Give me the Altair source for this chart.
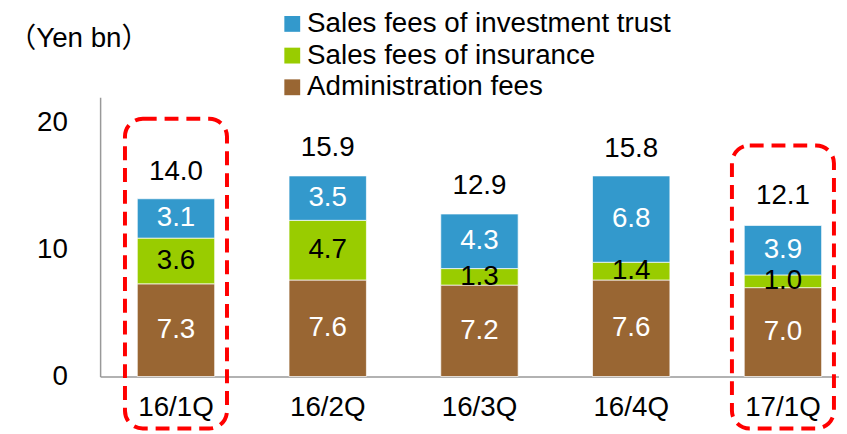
import altair as alt
import pandas as pd

quarters = ["16/1Q", "16/2Q", "16/3Q", "16/4Q", "17/1Q"]
admin = [7.3, 7.6, 7.2, 7.6, 7.0]
insurance = [3.6, 4.7, 1.3, 1.4, 1.0]
invest = [3.1, 3.5, 4.3, 6.8, 3.9]
totals = [14.0, 15.9, 12.9, 15.8, 12.1]

series = ["Sales fees of investment trust", "Sales fees of insurance", "Administration fees"]
colors = ["#3399CC", "#99CC00", "#996633"]
label_colors = {"Sales fees of investment trust": "white",
                "Sales fees of insurance": "black",
                "Administration fees": "white"}

highlight = ["16/1Q", "17/1Q"]
highlight_top = [20.3, 18.2]
highlight_bottom = [-4.1, -4.1]

FONT = "Liberation Sans, Arial, Noto Sans CJK JP"
FS = 28

rows = []
for i, q in enumerate(quarters):
    cum = 0.0
    for k, (name, vals) in enumerate([("Administration fees", admin),
                                      ("Sales fees of insurance", insurance),
                                      ("Sales fees of investment trust", invest)]):
        v = vals[i]
        rows.append({"quarter": q, "series": name, "value": v, "lo": cum,
                     "hi": cum + v, "mid": cum + v / 2, "lc": label_colors[name]})
        cum += v
df = pd.DataFrame(rows)
tot = pd.DataFrame({"quarter": quarters, "total": totals})
hl = pd.DataFrame({"quarter": highlight, "top": highlight_top, "bottom": highlight_bottom})

xenc = alt.X("quarter:N", sort=quarters,
             scale=alt.Scale(range=[0, 766], paddingInner=0.49, paddingOuter=0.245),
             axis=alt.Axis(labelAngle=0, ticks=False, tickSize=0, domainColor="#999999",
                           domainWidth=1.5, labelFontSize=FS, labelFont=FONT,
                           labelColor="black", labelPadding=17, title=None))

yscale = alt.Scale(domain=[0, 22], nice=False)

bars = alt.Chart(df).mark_bar(stroke="white", strokeWidth=0.7).encode(
    x=xenc,
    y=alt.Y("lo:Q", scale=yscale,
            axis=alt.Axis(values=[0, 10, 20], grid=False, ticks=False, tickSize=0,
                          domainColor="#999999", domainWidth=1.5, labelFontSize=FS,
                          labelFont=FONT, labelColor="black", labelPadding=33,
                          title="（Yen bn）", titleAngle=0, titleAlign="left",
                          titleBaseline="middle", titleX=-93, titleY=-59,
                          titleFontSize=FS, titleFont=FONT, titleFontWeight="normal",
                          titleColor="black")),
    y2="hi:Q",
    color=alt.Color("series:N", scale=alt.Scale(domain=series, range=colors),
                    legend=alt.Legend(orient="none", legendX=180, legendY=-88,
                                      title=None, symbolType="square", symbolSize=256,
                                      symbolStrokeWidth=0, labelFontSize=FS,
                                      labelFont=FONT, labelColor="black",
                                      labelOffset=1, rowPadding=4, padding=0,
                                      labelLimit=600)),
)

seg_labels = alt.Chart(df).mark_text(fontSize=FS, font=FONT, baseline="middle").encode(
    x=alt.X("quarter:N", sort=quarters),
    y=alt.Y("mid:Q", scale=yscale),
    text=alt.Text("value:Q", format=".1f"),
    color=alt.Color("lc:N", scale=None),
)

tot_labels = alt.Chart(tot).mark_text(fontSize=FS, font=FONT, baseline="middle",
                                      dy=-27, color="black").encode(
    x=alt.X("quarter:N", sort=quarters),
    y=alt.Y("total:Q", scale=yscale),
    text=alt.Text("total:Q", format=".1f"),
)

boxes = alt.Chart(hl).mark_bar(width=103, color="#FF0000", fillOpacity=0,
                               stroke="#FF0000", strokeWidth=4,
                               strokeDash=[14, 8], cornerRadius=18).encode(
    x=alt.X("quarter:N", sort=quarters),
    y=alt.Y("top:Q", scale=yscale),
    y2="bottom:Q",
)

chart = alt.layer(bars, seg_labels, tot_labels, boxes).properties(
    width=746, height=282,
    autosize=alt.AutoSizeParams(type="none"),
    padding={"left": 93, "top": 88, "right": 0, "bottom": 56},
).configure_view(stroke=None)

chart.save("out.html", embed_options={"renderer": "svg", "actions": False})
